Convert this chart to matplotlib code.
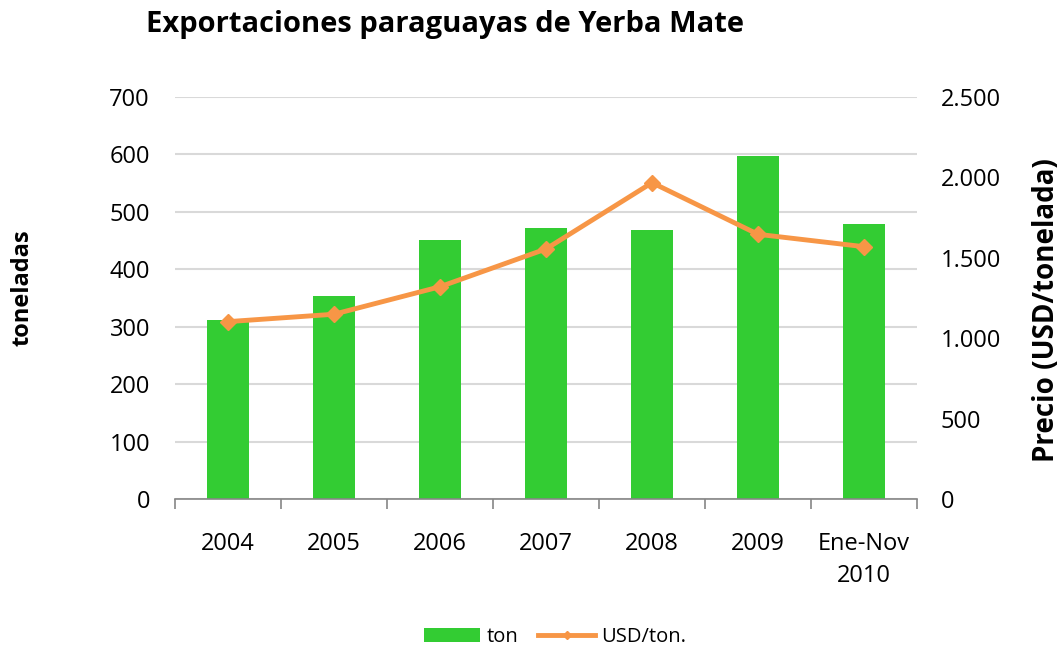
import matplotlib
matplotlib.use("Agg")
import matplotlib.pyplot as plt
import numpy as np
from matplotlib.ticker import FuncFormatter, FixedLocator

categories = ["2004", "2005", "2006", "2007", "2008", "2009", "Ene-Nov\n2010"]
toneladas = [311, 353, 451, 472, 468, 598, 479]
precio = [1103, 1149, 1320, 1555, 1967, 1646, 1569]

plt.rcParams['font.family'] = ['Open Sans', 'DejaVu Sans']

fig = plt.figure(figsize=(10.63, 6.5), dpi=100)
ax = fig.add_axes([0.1646, 0.2323, 0.8627 - 0.1646, 0.8508 - 0.2323])
ax2 = ax.twinx()

x = np.arange(len(categories))
green = "#33CC33"
orange = "#F79646"

ax.bar(x, toneladas, width=0.4, color=green, zorder=2, label="ton")
ax.set_ylim(0, 700)
ax.set_xlim(-0.5, len(categories) - 0.5)
ax.set_yticks(range(0, 701, 100))
ax.yaxis.grid(True, color="#D9D9D9", linewidth=1.5, zorder=0)
ax.set_axisbelow(True)

ax2.plot(x, precio, color=orange, linewidth=3.5, marker="D", markersize=8,
         zorder=3, label="USD/ton.")
ax2.set_ylim(0, 2500)
ax2.set_yticks(range(0, 2501, 500))
ax2.yaxis.set_major_formatter(FuncFormatter(lambda v, p: f"{int(v):,}".replace(",", ".")))

for a in (ax, ax2):
    for s in ("top", "left", "right"):
        a.spines[s].set_visible(False)
    a.tick_params(axis="y", length=0, labelsize=17, colors="#000000")
ax2.spines["bottom"].set_visible(False)
ax.spines["bottom"].set_color("#868686")
ax.spines["bottom"].set_linewidth(1.2)
ax.tick_params(axis="y", pad=18)
ax2.tick_params(axis="y", pad=17)

ax.set_xticks(x)
ax.set_xticklabels(categories, fontsize=17, linespacing=1.45)
ax.tick_params(axis="x", which="major", length=0, pad=24)
ax.xaxis.set_minor_locator(FixedLocator(np.arange(-0.5, len(categories), 1.0)))
ax.tick_params(axis="x", which="minor", length=7, color="#868686", width=1.2)

fig.text(23 / 1063, 0.558, "toneladas", fontsize=17, fontweight="bold",
         rotation=90, ha="center", va="center")
fig.text(1047 / 1063, 0.523, "Precio (USD/tonelada)", fontsize=20, fontweight="bold",
         rotation=90, ha="center", va="center")

fig.text(0.419, 0.963, "Exportaciones paraguayas de Yerba Mate", fontsize=21,
         fontweight="bold", ha="center", va="center")

h1, l1 = ax.get_legend_handles_labels()
h2, l2 = ax2.get_legend_handles_labels()
leg = fig.legend(h1 + h2, l1 + l2, loc="center", bbox_to_anchor=(0.522, 0.02),
                 ncol=2, frameon=False, fontsize=14.5, handlelength=2.8,
                 columnspacing=1.0, handletextpad=0.3)
for line in leg.get_lines():
    line.set_markersize(4)

fig.savefig("out.png", dpi=100)
